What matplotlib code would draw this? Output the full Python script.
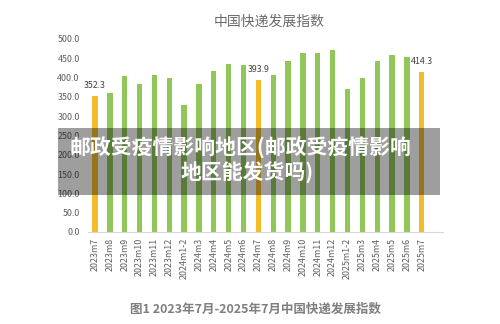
import matplotlib
matplotlib.use("Agg")
import matplotlib.pyplot as plt
from matplotlib.patches import Rectangle

plt.rcParams["font.family"] = ["Noto Sans CJK SC", "DejaVu Sans"]

months = ["2023m7", "2023m8", "2023m9", "2023m10", "2023m11", "2023m12",
          "2024m1-2", "2024m3", "2024m4", "2024m5", "2024m6", "2024m7",
          "2024m8", "2024m9", "2024m10", "2024m11", "2024m12", "2025m1-2",
          "2025m3", "2025m4", "2025m5", "2025m6", "2025m7"]
index = [352.3, 360.0, 405.0, 384.0, 406.0, 400.0,
         330.0, 382.0, 416.0, 434.0, 433.0, 393.9,
         407.0, 442.0, 464.0, 464.0, 470.0, 369.0,
         400.0, 442.0, 459.0, 454.0, 414.3]
labelled = ["2023m7", "2024m7", "2025m7"]   # July bars, highlighted and labelled

GREEN, YELLOW, GREY = "#8fc758", "#f4bb2a", "#5f5f5f"

fig = plt.figure(figsize=(5, 3.24), dpi=100)
ax = fig.add_axes([0.176, 0.284, 0.71, 0.596])

x = range(len(months))
colors = [YELLOW if m in labelled else GREEN for m in months]
ax.bar(x, index, width=0.36, color=colors, zorder=2)
for i, (m, v) in enumerate(zip(months, index)):
    if m in labelled:
        ax.annotate(f"{v:.1f}", (i, v), xytext=(0, 4.5), textcoords="offset points",
                    ha="center", va="bottom", fontsize=6.3, color="#404040")

ax.set_xlim(-0.47, 23.43)
ax.set_ylim(0, 500)
ax.set_yticks(range(0, 501, 50))
ax.set_yticklabels([f"{t:.1f}" for t in range(0, 501, 50)])
ax.set_xticks(list(x))
ax.set_xticklabels(months, rotation=90)
ax.tick_params(axis="both", length=0, labelsize=6.4, labelcolor=GREY)
ax.tick_params(axis="y", pad=6)
ax.tick_params(axis="x", pad=4)
for s in ["top", "right", "left"]:
    ax.spines[s].set_visible(False)
ax.spines["bottom"].set_color("#d9d9d9")

fig.text(0.539, 1 - 21.7 / 324, "中国快递发展指数", ha="center", va="center",
         fontsize=10, color="#6b6b6b")
fig.text(0.51, 1 - 309 / 324, "图1 2023年7月-2025年7月中国快递发展指数",
         ha="center", va="center", fontsize=9, fontweight="bold", color="#7f7f7f")

# translucent caption band across the middle of the chart
fig.add_artist(Rectangle((0.116, 1 - 195 / 324), 0.764, 66.7 / 324,
                         transform=fig.transFigure, facecolor="black",
                         alpha=0.38, edgecolor="none", zorder=5))
fig.text(240 / 500, 1 - 148.3 / 324, "邮政受疫情影响地区(邮政受疫情影响",
         ha="center", va="center", fontsize=15, fontweight="bold",
         color="white", zorder=6)
fig.text(247 / 500, 1 - 173.3 / 324, "地区能发货吗)",
         ha="center", va="center", fontsize=15, fontweight="bold",
         color="white", zorder=6)

fig.savefig("out.png", dpi=100)
